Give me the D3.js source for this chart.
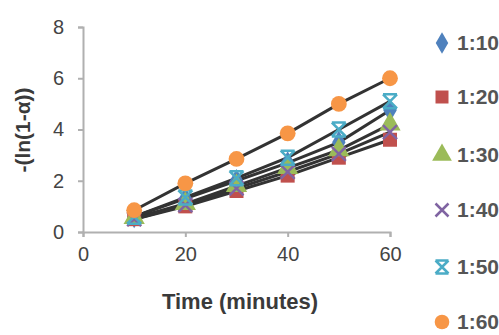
<!DOCTYPE html>
<html><head><meta charset="utf-8">
<script src="https://cdnjs.cloudflare.com/ajax/libs/d3/7.8.5/d3.min.js"></script>
<style>body{margin:0;background:#fff}svg{display:block}</style>
</head><body>
<svg id="c" width="499" height="335"></svg>
<script>
const times = [10, 20, 30, 40, 50, 60];
const seriesNames = ["1:10", "1:20", "1:30", "1:40", "1:50", "1:60"];
const s1 = [0.6, 1.3, 2.0, 2.7, 3.5, 4.75];
const s2 = [0.5, 1.0, 1.6, 2.2, 2.9, 3.6];
const s3 = [0.55, 1.1, 1.8, 2.5, 3.2, 4.2];
const s4 = [0.5, 1.05, 1.7, 2.35, 3.05, 3.9];
const s5 = [0.6, 1.35, 2.1, 2.9, 4.0, 5.1];
const s6 = [0.85, 1.9, 2.85, 3.85, 5.0, 6.0];
const xTicks = [0, 20, 40, 60];
const yTicks = [0, 2, 4, 6, 8];

const allSeries = [s1, s2, s3, s4, s5, s6];
const colors = ["#4F81BD", "#C0504D", "#9BBB59", "#8064A2", "#4BACC6", "#F79646"];
const shapes = ["diamond", "square", "triangle", "x", "star", "circle"];

const svg = d3.select("#c");
const x = d3.scaleLinear().domain([0, 60]).range([83, 390]);
const y = d3.scaleLinear().domain([0, 8]).range([232, 27]);
const font = "'Liberation Sans', Arial, sans-serif";

// axes
const xAxis = svg.append("g").attr("transform", "translate(0,232)")
  .call(d3.axisBottom(x).tickValues(xTicks).tickSize(5).tickPadding(10));
const yAxis = svg.append("g").attr("transform", "translate(83,0)")
  .call(d3.axisLeft(y).tickValues(yTicks).tickSize(5).tickPadding(14));
[xAxis, yAxis].forEach(g => {
  g.select(".domain").attr("stroke", "#b0b0b0").attr("stroke-width", 2);
  g.selectAll(".tick line").attr("stroke", "#b0b0b0").attr("stroke-width", 2);
  g.selectAll(".tick text").attr("font-family", font).attr("font-size", 20).attr("fill", "#444");
});

function marker(g, shape, color, cx, cy, s) {
  const sym = {
    diamond: d3.symbolDiamond, square: d3.symbolSquare, triangle: d3.symbolTriangle,
    circle: d3.symbolCircle
  };
  if (shape === "x" || shape === "star") {
    const r = s / 2;
    g.append("path").attr("transform", `translate(${cx},${cy})`)
      .attr("d", `M${-r},${-r}L${r},${r}M${-r},${r}L${r},${-r}` + (shape === "star" ? `M${-r},${-r}L${r},${-r}M${-r},${r}L${r},${r}` : ""))
      .attr("stroke", color).attr("stroke-width", 2.5).attr("fill", "none");
  } else {
    g.append("path").attr("transform", `translate(${cx},${cy})`)
      .attr("d", d3.symbol().type(sym[shape]).size(s * s * (shape === "diamond" ? 0.8 : 1))())
      .attr("fill", color);
  }
}

// series lines and markers
const line = d3.line().x((d, i) => x(times[i])).y(d => y(d));
const plot = svg.append("g");
allSeries.forEach((s, k) => {
  plot.append("path").attr("d", line(s)).attr("fill", "none")
    .attr("stroke", "#333").attr("stroke-width", 3);
});
allSeries.forEach((s, k) => {
  s.forEach((v, i) => marker(plot, shapes[k], colors[k], x(times[i]), y(v), 14));
});

// axis titles
svg.append("text").attr("x", 240).attr("y", 309).attr("text-anchor", "middle")
  .attr("font-family", font).attr("font-size", 22).attr("font-weight", "bold").attr("fill", "#3a3a3a")
  .text("Time (minutes)");
svg.append("text").attr("transform", "translate(30,130) rotate(-90)").attr("text-anchor", "middle")
  .attr("font-family", font).attr("font-size", 21).attr("font-weight", "bold").attr("fill", "#3a3a3a")
  .text("-(ln(1-α))");

// legend
const legY = [43, 97, 155, 210, 267, 322];
const leg = svg.append("g");
seriesNames.forEach((n, k) => {
  marker(leg, shapes[k], colors[k], 442, legY[k], 13);
  leg.append("text").attr("x", 457).attr("y", legY[k]).attr("dy", "0.35em")
    .attr("font-family", font).attr("font-size", 21).attr("font-weight", "bold").attr("fill", "#555").text(n);
});
</script>
</body></html>
